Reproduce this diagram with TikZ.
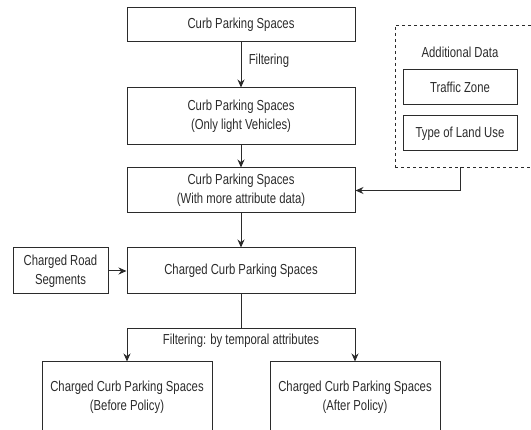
\documentclass[tikz,border=0pt]{standalone}
\usepackage{fontspec}
\setmainfont{Liberation Sans}[FakeStretch=0.78]
\usepackage{tikz}
\usetikzlibrary{arrows.meta, positioning}
\definecolor{ink}{HTML}{2B2B2B}

\begin{document}
\begin{tikzpicture}[x=1pt, y=-1pt,
  every node/.style={font=\fontsize{14.5}{19}\selectfont, text=ink},
  stage/.style={draw=ink, line width=1pt, minimum width=228pt, align=center},
  side/.style={draw=ink, line width=1pt, minimum width=95pt, minimum height=46pt, align=center},
  datum/.style={draw=ink, line width=1pt, minimum width=114pt, minimum height=35pt, align=center},
  group/.style={draw=ink, dashed, line width=0.8pt, minimum width=150pt, minimum height=142pt},
  result/.style={draw=ink, line width=1pt, minimum width=170pt, minimum height=71pt, align=center},
  arr/.style={-{Stealth[length=8pt, width=7pt]}, draw=ink, line width=1pt},
  link/.style={draw=ink, line width=1pt}
]
\useasboundingbox (0,0) rectangle (531,430);
\clip (0,0) rectangle (531,430);
\node[stage, minimum height=34pt] (raw) at (241,25) {Curb Parking Spaces};
\node[stage, minimum height=57pt] (light) at (241,116.5) {Curb Parking Spaces\\(Only light Vehicles)};
\node[stage, minimum height=45pt] (attr) at (241,190.5) {Curb Parking Spaces\\(With more attribute data)};
\node[stage, minimum height=46pt] (charged) at (241,271) {Charged Curb Parking Spaces};
\node[side] (road) at (60.5,271) {Charged Road\\Segments};
\node[group] (extra) at (470,96) {};
\node (extratitle) at (460,52) {Additional Data};
\node[datum] (zone) at (460,87.5) {Traffic Zone};
\node[datum] (land) at (460,133.5) {Type of Land Use};
\node[result] (before) at (127,397.5) {Charged Curb Parking Spaces\\(Before Policy)};
\node[result] (after) at (355,397.5) {Charged Curb Parking Spaces\\(After Policy)};
\draw[arr] (raw) -- node[pos=0.4, right=4pt] (filter) {Filtering} (light);
\draw[arr] (light) -- (attr);
\draw[arr] (extra.south -| zone) |- (attr.east);
\draw[arr] (attr) -- (charged);
\draw[arr] (road) -- (charged);
\draw[link] (charged.south) -- ++(0,34) coordinate (split);
\node[below=2pt of split] (temporal) {Filtering: by temporal attributes};
\draw[arr] (split) -| (before.north);
\draw[arr] (split) -| (after.north);
\end{tikzpicture}
\end{document}
